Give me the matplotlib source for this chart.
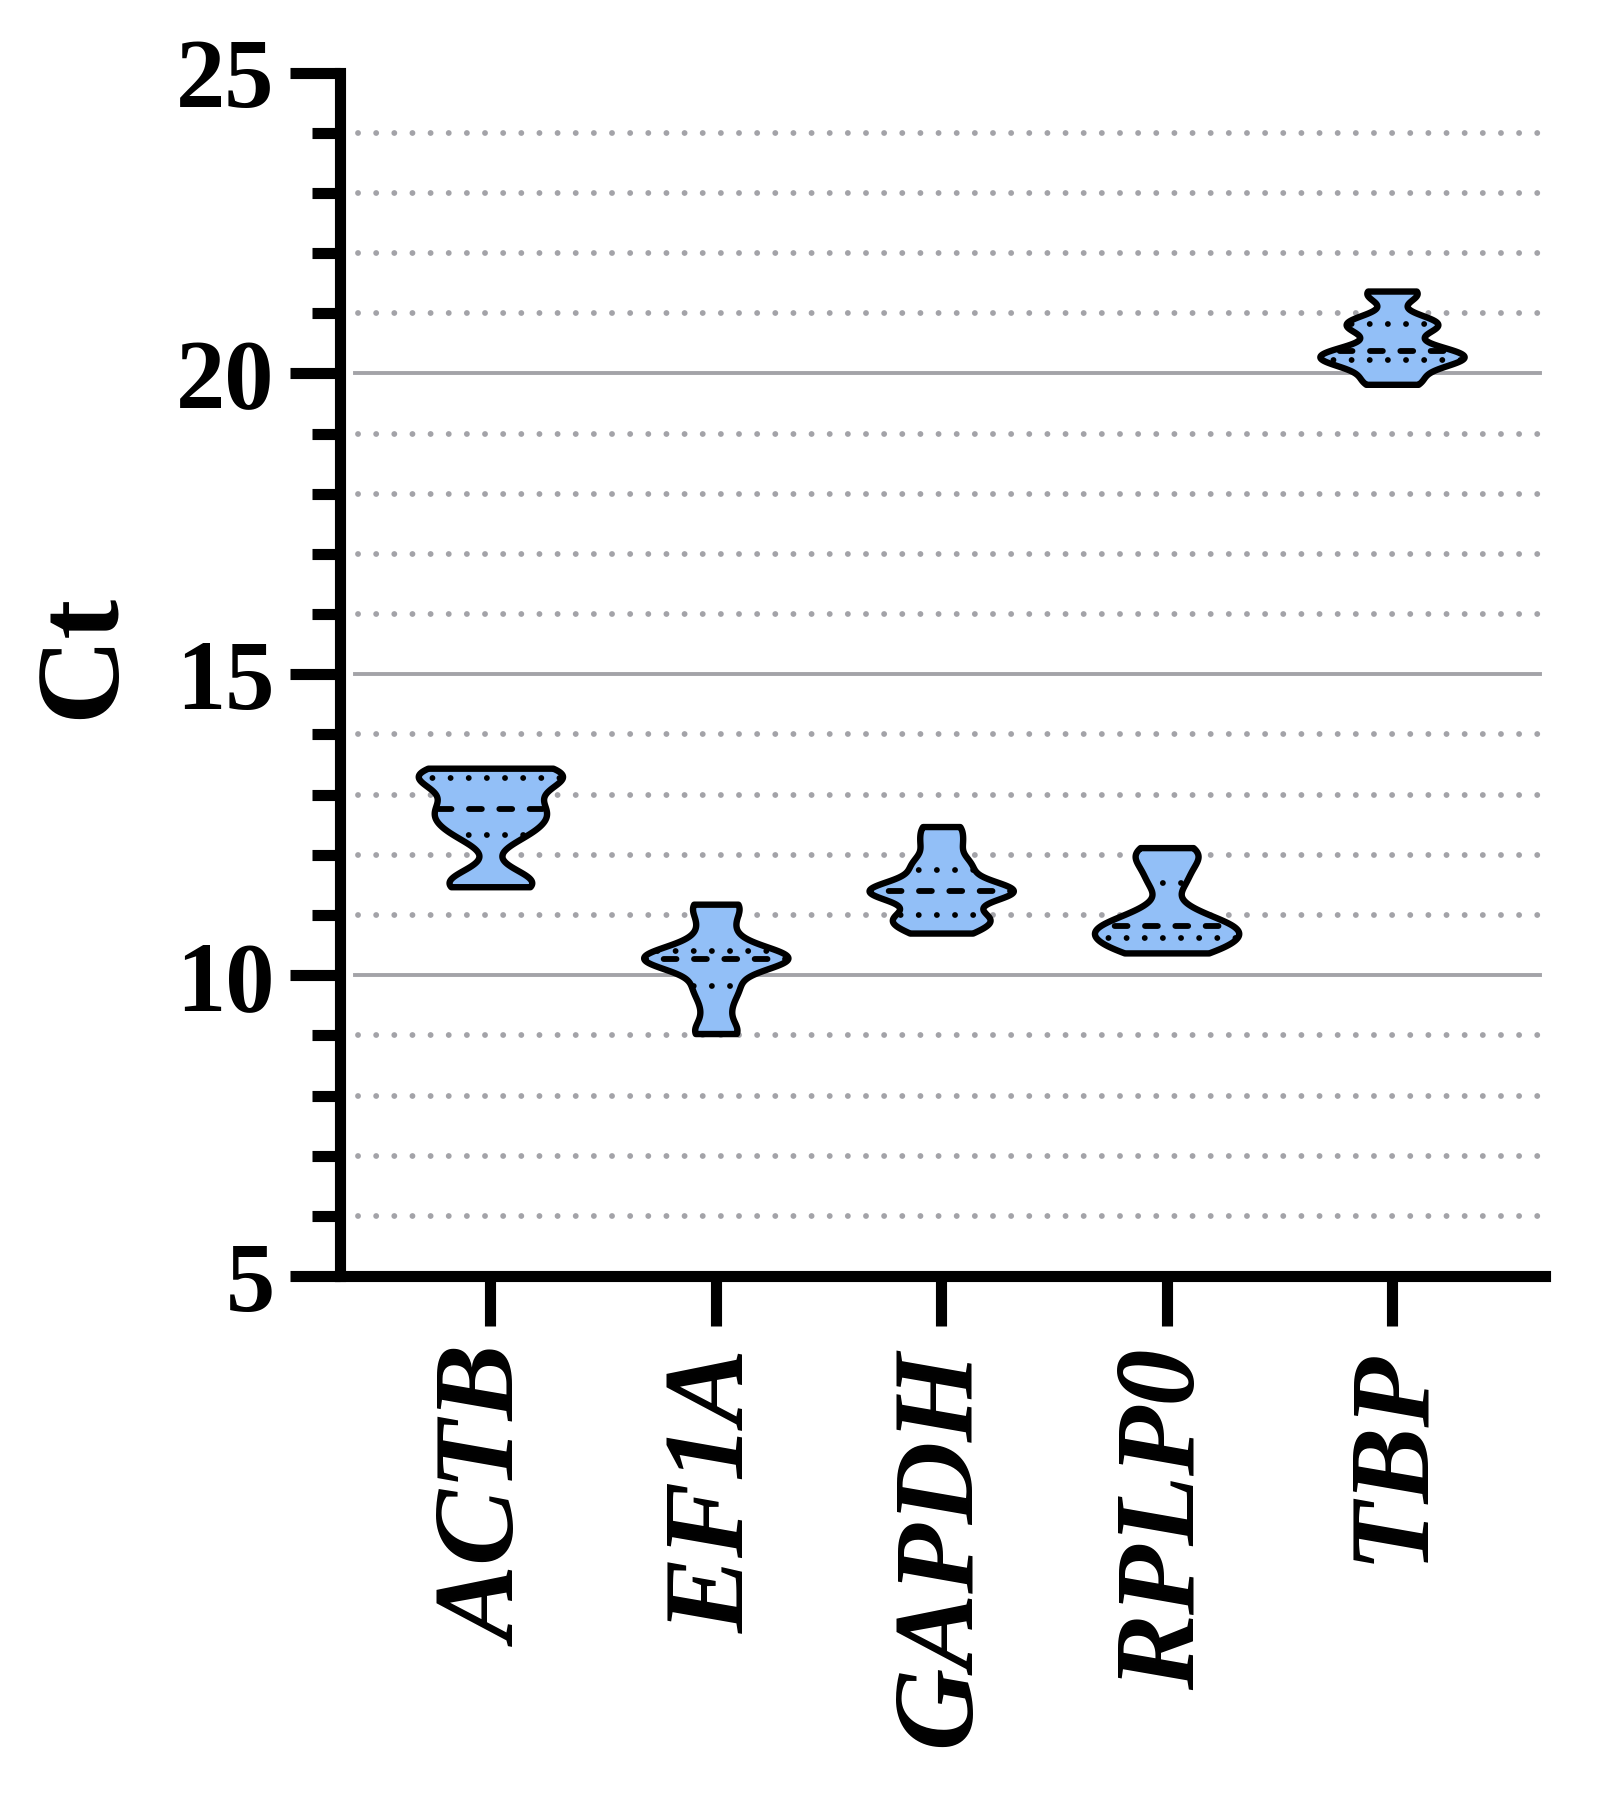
import numpy as np
import matplotlib
matplotlib.use("Agg")
import matplotlib.pyplot as plt
from matplotlib.ticker import MultipleLocator

# Ct values per reference gene
genes = ["ACTB", "EF1A", "GAPDH", "RPLP0", "TBP"]
ct_actb = [11.47, 11.52, 11.62, 12.3, 12.45, 12.6, 12.72, 12.8, 13.0, 13.2, 13.3, 13.35, 13.4, 13.44]
ct_ef1a = [9.03, 9.08, 9.45, 9.75, 9.85, 10.22, 10.25, 10.27, 10.28, 10.29, 10.31, 10.34, 10.6, 10.85, 11.15, 11.18]
ct_gapdh = [10.7, 10.85, 10.95, 11.0, 11.3, 11.38, 11.4, 11.42, 11.5, 11.75, 11.9, 12.2, 12.47]
ct_rplp0 = [10.37, 10.45, 10.55, 10.62, 10.7, 10.8, 10.82, 10.9, 11.1, 11.53, 11.8, 12.0, 12.12]
ct_tbp = [19.82, 19.9, 20.1, 20.2, 20.25, 20.28, 20.3, 20.37, 20.45, 20.7, 20.8, 20.85, 20.9, 21.3, 21.37]
data = [ct_actb, ct_ef1a, ct_gapdh, ct_rplp0, ct_tbp]

fill_col = "#92BFF7"
grid_col = "#A3A3A8"
lw_axis = 8.0
serif = "Liberation Serif"

fig = plt.figure(figsize=(15.98, 18.11), dpi=100)
ax = fig.add_axes([0.2128, 0.2954, 0.967 - 0.2128, 0.9599 - 0.2954])

pos = np.arange(len(genes))
vp = ax.violinplot(data, positions=pos, widths=0.64, showextrema=False,
                   bw_method=0.3, points=300)

for i, body in enumerate(vp["bodies"]):
    body.set_facecolor(fill_col)
    body.set_edgecolor("black")
    body.set_linewidth(4.6)
    body.set_alpha(1)
    body.set_zorder(3)
    body.set_joinstyle("round")
    q1, med, q3 = np.percentile(data[i], [25, 50, 75])
    path = body.get_paths()[0]
    # median - dashed, quartiles - dotted; clipped to the violin shape
    l, = ax.plot([pos[i] - 0.5, pos[i] + 0.5], [med, med], color="black", lw=4.2,
                 linestyle=(0, (2.2, 3.0)), dash_capstyle="round", zorder=4)
    l.set_clip_path(path, body.get_transform())
    for q in (q1, q3):
        l, = ax.plot([pos[i] - 0.5, pos[i] + 0.5], [q, q], color="black", lw=4.2,
                     linestyle=(0, (0.01, 3.1)), dash_capstyle="round", zorder=4)
        l.set_clip_path(path, body.get_transform())

# grid
for y in range(6, 25):
    if y % 5 == 0:
        ax.axhline(y, xmin=0.012, xmax=0.996, color=grid_col, lw=2.8, zorder=1)
    else:
        ax.axhline(y, xmin=0.015, xmax=0.996, color=grid_col, lw=4.2,
                   linestyle=(0, (0.01, 3.1)), dash_capstyle="round", zorder=1)

ax.set_ylim(5, 25)
ax.set_xlim(-0.667, 4.68)
ax.yaxis.set_major_locator(MultipleLocator(5))
ax.yaxis.set_minor_locator(MultipleLocator(1))

for s in ["top", "right"]:
    ax.spines[s].set_visible(False)
for s in ["left", "bottom"]:
    ax.spines[s].set_linewidth(lw_axis)
    ax.spines[s].set_capstyle("projecting")

ax.tick_params(axis="y", which="major", length=36, width=lw_axis, pad=11)
ax.tick_params(axis="y", which="minor", length=20, width=lw_axis)
ax.tick_params(axis="x", which="major", length=36, width=lw_axis, pad=16)

ax.set_xticks(pos)
ax.set_xticklabels(genes, rotation=90, fontsize=82, fontfamily=serif,
                   fontweight="bold", fontstyle="italic")
for lab in ax.get_yticklabels():
    lab.set_fontfamily(serif)
    lab.set_fontweight("bold")
    lab.set_fontsize(71)

ax.text(-0.212, 0.515, "Ct", transform=ax.transAxes, rotation=90,
        ha="center", va="center", fontsize=86, fontfamily=serif, fontweight="bold")

fig.savefig("out.png", dpi=100)
